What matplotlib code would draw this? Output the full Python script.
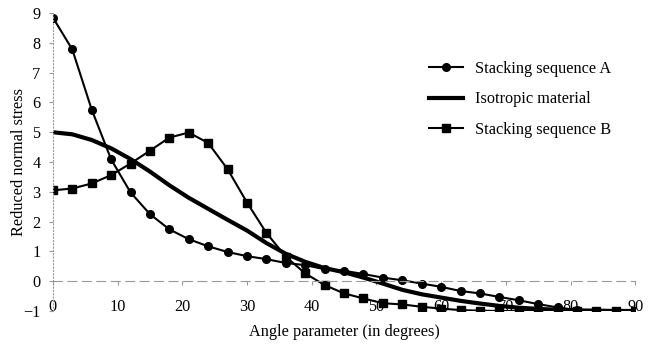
import matplotlib
matplotlib.use('Agg')
import matplotlib.pyplot as plt

# angle parameter in degrees, every 3 degrees
angles = list(range(0, 91, 3))

# values
stackingA = [8.85, 7.78, 5.76, 4.09, 2.98, 2.25, 1.74, 1.41, 1.17, 0.98, 0.84,
             0.74, 0.61, 0.54, 0.40, 0.35, 0.24, 0.12, 0.03, -0.08, -0.19,
             -0.33, -0.41, -0.53, -0.64, -0.77, -0.88, -0.97, -1.0, -1.0, -1.0]
isotropic = [5.00, 4.93, 4.74, 4.46, 4.10, 3.68, 3.22, 2.80, 2.43, 2.06, 1.70,
             1.28, 0.92, 0.65, 0.44, 0.30, 0.12, -0.08, -0.29, -0.44, -0.55,
             -0.66, -0.75, -0.83, -0.89, -0.93, -0.96, -0.98, -0.99, -1.0, -1.0]
stackingB = [3.05, 3.11, 3.28, 3.56, 3.95, 4.38, 4.82, 4.99, 4.64, 3.76, 2.64,
             1.62, 0.82, 0.26, -0.13, -0.41, -0.58, -0.74, -0.78, -0.86, -0.92,
             -0.97, -0.99, -1.0, -1.0, -1.0, -1.0, -1.0, -1.0, -1.0, -1.0]

xticks = [0, 10, 20, 30, 40, 50, 60, 70, 80, 90]
yticks = [-1, 0, 1, 2, 3, 4, 5, 6, 7, 8, 9]

plt.rcParams['font.family'] = ['Liberation Serif', 'DejaVu Serif']
plt.rcParams['font.size'] = 11.7

fig = plt.figure(figsize=(6.61, 3.44), dpi=100)
ax = fig.add_axes([0.080, 0.096, 0.881, 0.866])

ax.plot(angles, stackingA, color='black', lw=1.5, marker='o', ms=5.5,
        label='Stacking sequence A')
ax.plot(angles, isotropic, color='black', lw=3, label='Isotropic material')
ax.plot(angles, stackingB, color='black', lw=1.5, marker='s', ms=5.5,
        label='Stacking sequence B')

ax.set_xlim(0, 90)
ax.set_ylim(-1, 9)
ax.set_xticks(xticks)
ax.set_yticks(yticks)

# excel style: x axis crosses at 0, labels stay low
ax.spines['bottom'].set_position(('data', 0))
ax.spines['bottom'].set_color('#999999')
ax.spines['bottom'].set_linestyle((0, (8, 5)))
ax.spines['bottom'].set_linewidth(0.8)
ax.spines['left'].set_color('#999999')
ax.spines['left'].set_linestyle((0, (1, 2)))
ax.spines['left'].set_linewidth(0.8)
ax.spines['top'].set_visible(False)
ax.spines['right'].set_visible(False)
ax.tick_params(axis='x', length=3, color='#999999', pad=10)
ax.tick_params(axis='y', length=3, color='#999999', pad=6)

ax.set_xlabel('Angle parameter (in degrees)', labelpad=6)
ax.set_ylabel('Reduced normal stress', labelpad=-3)

ax.legend(loc='upper left', bbox_to_anchor=(421 / 661, 1 - 53 / 344),
          bbox_transform=fig.transFigure, frameon=False, borderpad=0,
          handlelength=2.1, labelspacing=0.88, handletextpad=0.75)

fig.savefig('out.png', dpi=100)
